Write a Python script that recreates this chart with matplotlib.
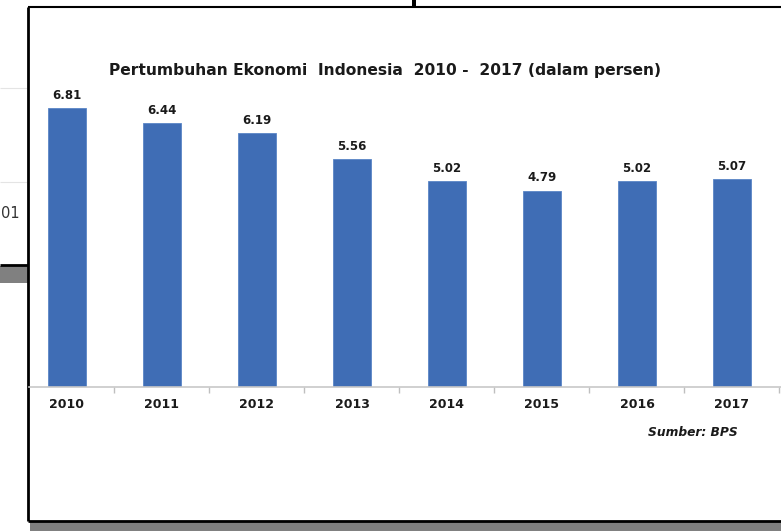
import matplotlib.pyplot as plt
from matplotlib.patches import Rectangle

years = ['2010', '2011', '2012', '2013', '2014', '2015', '2016', '2017']
growth = [6.81, 6.44, 6.19, 5.56, 5.02, 4.79, 5.02, 5.07]
title = 'Pertumbuhan Ekonomi  Indonesia  2010 -  2017 (dalam persen)'
source = 'Sumber: BPS'

W, H = 781, 531
fig = plt.figure(figsize=(W / 100, H / 100), dpi=100)

# background layer in pixel coordinates (screenshot frame and leftovers)
bg = fig.add_axes([0, 0, 1, 1], zorder=0)
bg.set_xlim(0, W)
bg.set_ylim(H, 0)
bg.axis('off')
bg.hlines([88, 182], 0, 27, color='#e4e4e4', lw=0.8)
bg.text(0.5, 213, '01', ha='left', va='center', fontsize=10.5, color='#333333')
bg.add_patch(Rectangle((0, 266), 28, 17, color='#808080', lw=0))
bg.hlines(265, 0, 28, color='black', lw=2)
bg.add_patch(Rectangle((30, 522), W - 30, 10, color='#808080', lw=0))
bg.vlines(28, 7, 521, color='black', lw=2)
bg.hlines(7, 28, W, color='black', lw=1.5)
bg.hlines(521, 28, W, color='black', lw=2)
bg.add_patch(Rectangle((412, 0), 4, 7, color='black', lw=0))

# chart
left, right, base, top = 29, 781, 387, 100
ax = fig.add_axes([left / W, (H - base) / H, (right - left) / W, (base - top) / H], zorder=1)
ax.patch.set_alpha(0)
x = list(range(len(years)))
ax.bar(x, growth, width=0.4, color='#3f6db5', edgecolor='#5a86c6', linewidth=0.6)
for xi, v in zip(x, growth):
    ax.annotate('{:.2f}'.format(v), (xi, v), xytext=(0, 4.5), textcoords='offset points',
                ha='center', va='bottom', fontsize=8.5, fontweight='bold', color='#1a1a1a')
ax.set_xticks(x)
ax.set_xticklabels(years, fontsize=9, fontweight='bold', color='#1a1a1a')
ax.set_xticks([i + 0.5 for i in range(0, 8)], minor=True)
ax.set_xlim(-0.4, 7.516)
ax.set_ylim(0, 7)
ax.tick_params(axis='x', which='major', length=0, pad=8)
ax.tick_params(axis='x', which='minor', length=4, color='#bfbfbf', width=1)
ax.set_yticks([])
for s in ['left', 'right', 'top']:
    ax.spines[s].set_visible(False)
ax.spines['bottom'].set_color('#c8c8c8')
ax.spines['bottom'].set_linewidth(1.2)

fig.text(385 / W, 1 - 70 / H, title, ha='center', va='center', fontsize=11.2,
         fontweight='bold', color='#1a1a1a')
fig.text(738 / W, 1 - 432 / H, source, ha='right', va='center', fontsize=8.8,
         fontweight='bold', style='italic', color='#1a1a1a')

fig.savefig('out.png', dpi=100)
